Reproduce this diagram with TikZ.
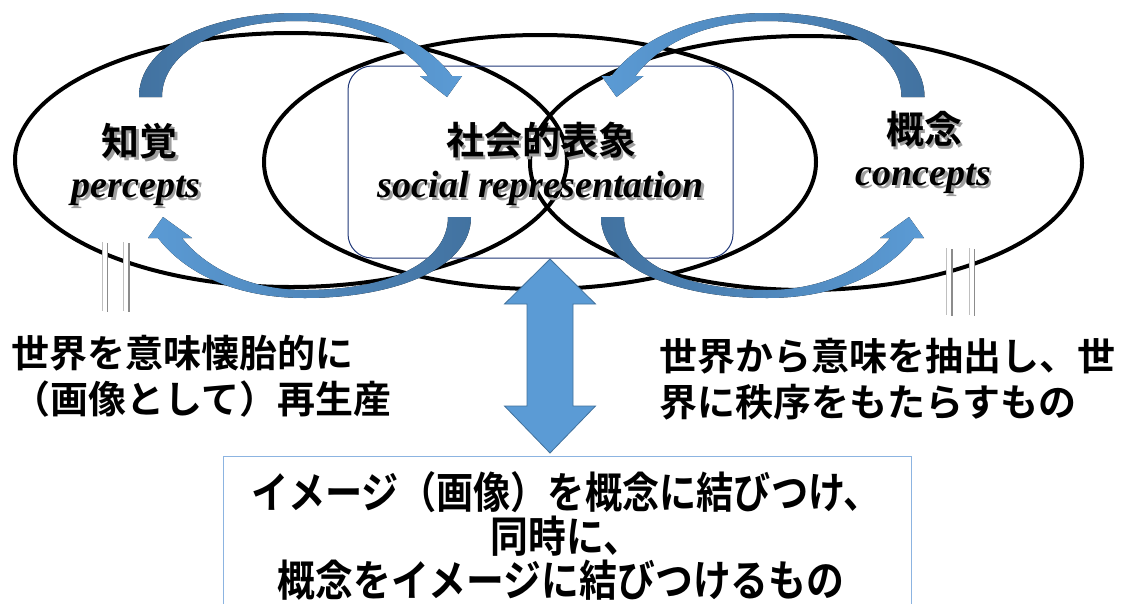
\documentclass[tikz,border=0pt]{standalone}
\usepackage{fontspec}
\usepackage{graphicx}
\setmainfont{Liberation Serif}
\newfontfamily\jp{Noto Sans CJK JP}[BoldFont={Noto Sans CJK JP Bold}]
\usetikzlibrary{shapes.geometric}
\definecolor{arrL}{RGB}{91,155,213}
\definecolor{arrD}{RGB}{66,114,160}
\definecolor{navy}{RGB}{32,56,120}
\definecolor{boxblue}{RGB}{140,180,225}
\definecolor{dblborder}{RGB}{65,113,156}
\newcommand{\shtext}[1]{\makebox[0pt][l]{\hspace{2.5pt}\raisebox{-3pt}[0pt][0pt]{\textcolor{black!38}{#1}}}#1}
\tikzset{
  ell/.style={ellipse, draw=black, line width=4, inner sep=0, minimum width=552, minimum height=254},
  jplab/.style={font=\jp\bfseries\fontsize{38}{40}\selectfont, inner sep=0},
  enlab/.style={font=\bfseries\itshape\fontsize{38}{40}\selectfont, inner sep=0, anchor=base},
  sidetxt/.style={font=\jp\bfseries\fontsize{38}{40}\selectfont, inner sep=0, anchor=base west},
  bottxt/.style={font=\jp\bfseries\fontsize{43}{45}\selectfont, inner sep=0, anchor=base},
  barwhite/.style={white, line width=5},
  barshade/.style={black!45, line width=1.6},
  barlight/.style={black!25, line width=0.8}
}
\begin{document}
\begin{tikzpicture}[x=1pt,y=-1pt]
\clip (0,0) rectangle (1129,603);
\useasboundingbox (0,0) rectangle (1129,603);
\fill[white] (0,0) rectangle (1129,603);

% ellipses
\node[ell] (ePercept) at (291,160) {};
\node[ell] (eSocial) at (540,162) {};
\node[ell] (eConcept) at (806,163) {};

% rounded box
\node[draw=navy, line width=1, rounded corners=24, minimum width=385, minimum height=192, inner sep=0] (srbox) at (540.5,162) {};

% curved arrows
\fill[left color=arrD, right color=arrL]
  (139,97) .. controls (139,45) and (210,13) .. (297,13) .. controls (370,13) and (425,40) .. (452,76)
  -- (462,76) -- (447,97) -- (420,76) -- (428,76)
  .. controls (405,45) and (360,21) .. (297,21) .. controls (220,21) and (162,52) .. (162,97) -- cycle;
\fill[left color=arrL, right color=arrD]
  (924.5,97) .. controls (924.5,45) and (853.5,13) .. (766.5,13) .. controls (693.5,13) and (638.5,40) .. (611.5,76)
  -- (601.5,76) -- (616.5,97) -- (643.5,76) -- (635.5,76)
  .. controls (658.5,45) and (703.5,21) .. (766.5,21) .. controls (843.5,21) and (901.5,52) .. (901.5,97) -- cycle;
\fill[left color=arrL, right color=arrD]
  (471,217) .. controls (471,268) and (395,298) .. (305,298) .. controls (235,298) and (185,273) .. (158,238)
  -- (148,238) -- (163,217) -- (192,238) -- (182,238)
  .. controls (205,267) and (248,290) .. (305,290) .. controls (390,290) and (448,262) .. (448,217) -- cycle;
\fill[left color=arrD, right color=arrL]
  (601,217) .. controls (601,268) and (677,298) .. (767,298) .. controls (837,298) and (887,273) .. (914,238)
  -- (924,238) -- (909,217) -- (880,238) -- (890,238)
  .. controls (867,267) and (824,290) .. (767,290) .. controls (682,290) and (624,262) .. (624,217) -- cycle;

% equals bars
\foreach \x/\ya/\yb in {104.5/242/311, 126/242/311, 949/248/315, 971.5/248/315} {
  \draw[barwhite] (\x,\ya) -- (\x,\yb);
  \draw[barlight] (\x-2.5,\ya) -- (\x-2.5,\yb);
  \draw[barshade] (\x+2.8,\ya+1) -- (\x+2.8,\yb+1);
}

% double arrow
\coordinate (dtop) at (550,259);
\coordinate (dbot) at (550,453);
\draw[fill=arrL, draw=dblborder, line width=0.8]
  (dtop) -- ++(45.5,45) -- ++(-22.5,0) -- ++(0,102) -- ++(22.5,0) -- (dbot)
  -- ++(-45.5,-47) -- ++(22.5,0) -- ++(0,-102) -- ++(-22.5,0) -- cycle;

% bottom box
\node[draw=boxblue, line width=1, fill=white, minimum width=688, minimum height=200, inner sep=0] (bbox) at (567,556) {};

% labels with shadow
\node[jplab] (lp) at (139.5,141.5) {\shtext{知覚}};
\node[enlab] (ep) at (136,197) {\shtext{percepts}};
\node[jplab] (ls) at (541,140) {\shtext{社会的表象}};
\node[enlab] (es) at (541,197) {\shtext{social representation}};
\node[jplab] (lc) at (924,129.5) {\shtext{概念}};
\node[enlab] (ec) at (923.5,185) {\shtext{concepts}};

% side texts
\node[sidetxt] (lt1) at (11,367) {世界を意味懐胎的に};
\node[sidetxt] (lt2) at (12,413) {（画像として）再生産};
\node[sidetxt] (rt1) at (659,370) {世界から意味を抽出し、世};
\node[sidetxt] (rt2) at (659,416) {界に秩序をもたらすもの};

% bottom texts
\node[bottxt] (b1) at (566,508) {\scalebox{0.865}[1]{イメージ（画像）を概念に結びつけ、}};
\node[bottxt] (b2) at (566,552) {\scalebox{0.88}[1]{同時に、}};
\node[bottxt] (b3) at (561,596) {\scalebox{0.88}[1]{概念をイメージに結びつけるもの}};
\end{tikzpicture}
\end{document}
